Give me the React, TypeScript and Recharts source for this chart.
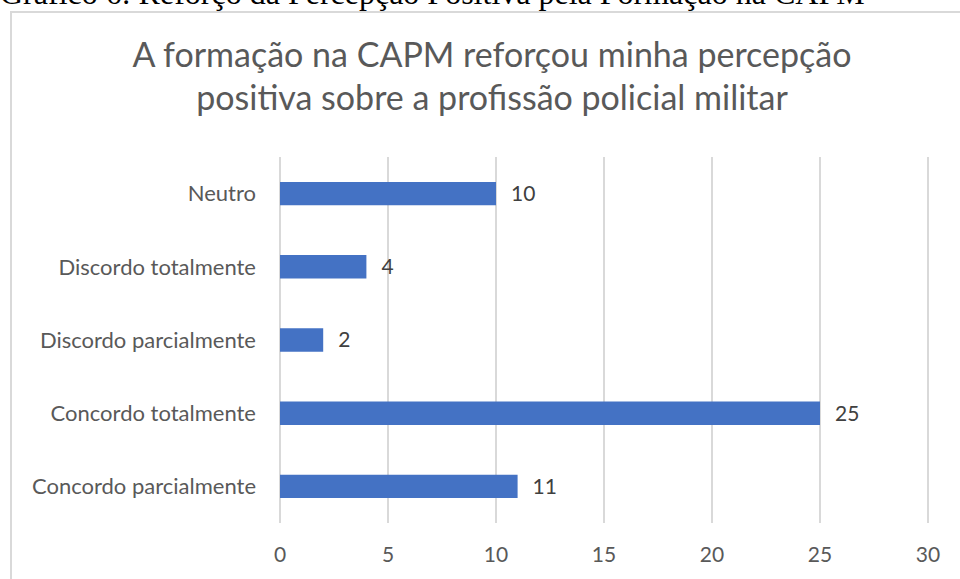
import React from 'react'
import { BarChart, Bar, XAxis, YAxis, CartesianGrid, LabelList } from 'recharts'

const categories = [
  'Neutro',
  'Discordo totalmente',
  'Discordo parcialmente',
  'Concordo totalmente',
  'Concordo parcialmente',
]
const values = [10, 4, 2, 25, 11]
const xTicks = [0, 5, 10, 15, 20, 25, 30]

const data = categories.map((name, i) => ({ name, value: values[i] }))

const FONT = 'Lato, "Open Sans", sans-serif'
const GREY = '#595959'

export default function App() {
  return (
    <div
      style={{
        position: 'absolute',
        left: 0,
        top: 0,
        width: 960,
        height: 579,
        overflow: 'hidden',
        background: '#fff',
      }}
    >
      {/* caption above the chart, cut off at the top */}
      <div
        style={{
          position: 'absolute',
          left: 0,
          top: -25,
          fontFamily: '"Liberation Serif", "Times New Roman", serif',
          fontSize: 32,
          color: '#000',
          whiteSpace: 'nowrap',
        }}
      >
        Gráfico 6: Reforço da Percepção Positiva pela Formação na CAPM
      </div>

      <div
        style={{
          position: 'absolute',
          left: 10,
          top: 11,
          width: 970,
          height: 590,
          border: '2px solid #d9d9d9',
          boxSizing: 'border-box',
          background: '#fff',
        }}
      >
        <div
          style={{
            position: 'absolute',
            left: 0,
            top: 19,
            width: 960,
            textAlign: 'center',
            fontFamily: FONT,
            fontSize: 34,
            lineHeight: '43px',
            color: GREY,
          }}
        >
          A formação na CAPM reforçou minha percepção
          <br />
          positiva sobre a profissão policial militar
        </div>

        <BarChart
          width={948}
          height={580}
          data={data}
          layout="vertical"
          barCategoryGap="66%"
          margin={{ top: 146, right: 30, left: 0, bottom: 38 }}
          style={{ position: 'absolute', left: -2, top: -2 }}
        >
          <CartesianGrid horizontal={false} stroke="#d9d9d9" strokeWidth={2} />
          <XAxis
            type="number"
            domain={[0, 30]}
            ticks={xTicks}
            axisLine={false}
            tickLine={false}
            tickMargin={18}
            tick={{ fill: GREY, fontSize: 21, fontFamily: FONT }}
          />
          <YAxis
            type="category"
            dataKey="name"
            width={270}
            axisLine={false}
            tickLine={false}
            tickMargin={18}
            tick={{ fill: GREY, fontSize: 22, fontFamily: FONT }}
          />
          <Bar dataKey="value" fill="#4472c4" isAnimationActive={false}>
            <LabelList
              dataKey="value"
              position="right"
              offset={15}
              fill="#404040"
              fontSize={21}
              fontFamily={FONT}
            />
          </Bar>
        </BarChart>
      </div>
    </div>
  )
}
